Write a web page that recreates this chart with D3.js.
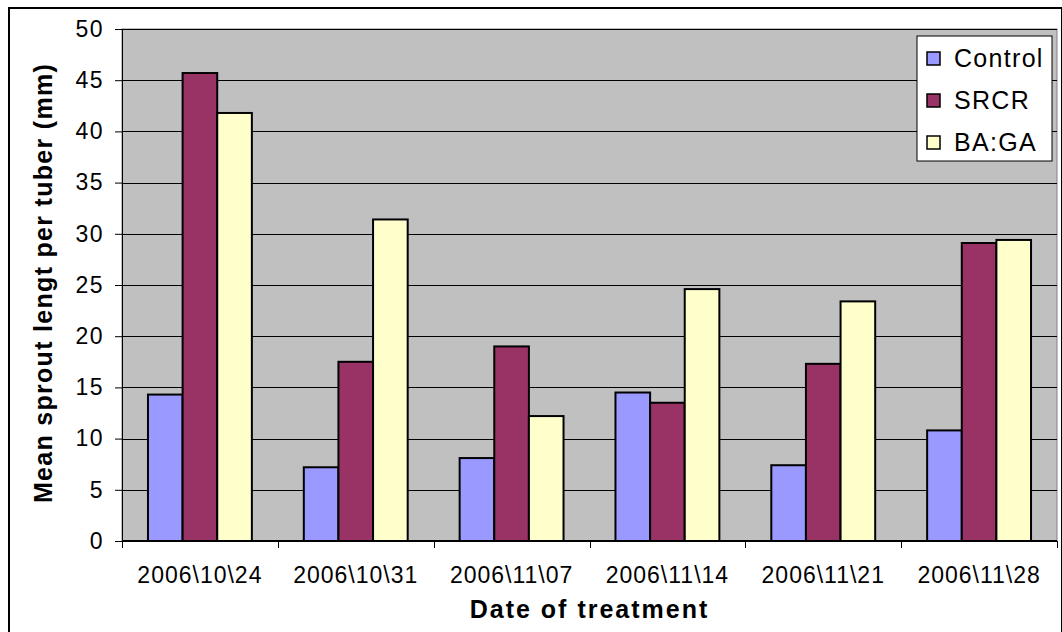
<!DOCTYPE html>
<html>
<head>
<meta charset="utf-8">
<script src="https://cdn.jsdelivr.net/npm/d3@7"></script>
<style>
  body { margin: 0; background: #fff; }
  text { font-family: "Liberation Sans", Arial, sans-serif; }
</style>
</head>
<body>
<div id="chart"></div>
<script>
// data
var dates = ["2006\\10\\24", "2006\\10\\31", "2006\\11\\07", "2006\\11\\14", "2006\\11\\21", "2006\\11\\28"];
var seriesNames = ["Control", "SRCR", "BA:GA"];
var control = [14.3, 7.2, 8.1, 14.5, 7.4, 10.8];
var srcr = [45.7, 17.5, 19.0, 13.5, 17.3, 29.1];
var baga = [41.8, 31.4, 12.2, 24.6, 23.4, 29.4];
var yTicks = [0, 5, 10, 15, 20, 25, 30, 35, 40, 45, 50];

var colors = ["#9999FF", "#993366", "#FFFFCC"];
var values = [control, srcr, baga];

var width = 1062, height = 632;
var margin = {left: 122, right: 5, top: 29, bottom: 91};

var svg = d3.select("#chart").append("svg")
    .attr("width", width)
    .attr("height", height);

// outer chart border
svg.append("rect")
  .attr("x", 9).attr("y", 8)
  .attr("width", width - 9).attr("height", height - 7)
  .style("fill", "#fff")
  .style("stroke", "#000")
  .style("stroke-width", 2);

var xScale = d3.scaleBand()
  .domain(dates)
  .range([margin.left, width - margin.right]);

var yScale = d3.scaleLinear()
  .domain([0, 50])
  .range([height - margin.bottom, margin.top]);

// inner band for the 3 bars (gap width 150%)
var inner = d3.scaleBand()
  .domain(d3.range(3))
  .range([0, xScale.bandwidth()])
  .paddingOuter(0.75);

// plot background
svg.append("rect")
  .attr("x", xScale.range()[0])
  .attr("y", yScale(50))
  .attr("width", xScale.range()[1] - xScale.range()[0])
  .attr("height", yScale(0) - yScale(50))
  .style("fill", "#C0C0C0")
  .style("stroke", "#808080")
  .style("stroke-width", 1);

// grid lines
svg.selectAll(".grid")
  .data(yTicks.slice(1))
 .enter()
  .append("line")
  .attr("class", "grid")
  .attr("x1", xScale.range()[0])
  .attr("x2", xScale.range()[1])
  .attr("y1", function(d) { return Math.round(yScale(d)) + 0.5; })
  .attr("y2", function(d) { return Math.round(yScale(d)) + 0.5; })
  .style("stroke", "#000")
  .style("stroke-width", 1);

// bars
for (var s = 0; s < 3; s++) {
  svg.selectAll(".bar" + s)
    .data(values[s])
   .enter()
    .append("rect")
    .attr("class", "bar" + s)
    .attr("x", function(d, i) { return xScale(dates[i]) + inner(s); })
    .attr("y", function(d) { return yScale(d); })
    .attr("width", inner.bandwidth())
    .attr("height", function(d) { return yScale(0) - yScale(d); })
    .style("fill", colors[s])
    .style("stroke", "#000")
    .style("stroke-width", 2);
}

// y axis
var yAxis = d3.axisLeft(yScale)
  .tickValues(yTicks)
  .tickSize(7)
  .tickPadding(11)
  .tickFormat(d3.format("d"));

var gy = svg.append("g")
  .attr("transform", "translate(" + xScale.range()[0] + ",0)")
  .call(yAxis);
gy.select(".domain").style("stroke", "#000");
gy.selectAll("line").style("stroke", "#000");
gy.selectAll("text")
  .style("font-size", "23px")
  .style("letter-spacing", "1.5px")
  .style("fill", "#000");

// x axis: baseline with tick marks at category boundaries
svg.append("line")
  .attr("x1", xScale.range()[0])
  .attr("x2", xScale.range()[1])
  .attr("y1", yScale(0))
  .attr("y2", yScale(0))
  .style("stroke", "#000")
  .style("stroke-width", 2);

var bounds = dates.map(function(d) { return xScale(d); }).concat([xScale.range()[1]]);
svg.selectAll(".xtick")
  .data(bounds)
 .enter()
  .append("line")
  .attr("class", "xtick")
  .attr("x1", function(d) { return Math.round(d) + 0.5; })
  .attr("x2", function(d) { return Math.round(d) + 0.5; })
  .attr("y1", yScale(0))
  .attr("y2", yScale(0) + 7)
  .style("stroke", "#000");

svg.selectAll(".xlabel")
  .data(dates)
 .enter()
  .append("text")
  .attr("class", "xlabel")
  .attr("text-anchor", "middle")
  .attr("x", function(d) { return xScale(d) + xScale.bandwidth() / 2; })
  .attr("y", 583)
  .text(function(d) { return d; })
  .style("font-size", "23px")
  .style("letter-spacing", "1px")
  .style("fill", "#000");

// axis titles
svg.append("text")
  .attr("text-anchor", "middle")
  .attr("x", (xScale.range()[0] + xScale.range()[1]) / 2)
  .attr("y", 618)
  .text("Date of treatment")
  .style("font-size", "25px")
  .style("letter-spacing", "2px")
  .style("font-weight", "bold");

svg.append("text")
  .attr("text-anchor", "middle")
  .attr("transform", "translate(52," + (yScale(25) - 2) + ") rotate(-90)")
  .text("Mean sprout lengt per tuber (mm)")
  .style("font-size", "25px")
  .style("letter-spacing", "1.3px")
  .style("font-weight", "bold");

// legend
var legend = svg.append("g").attr("transform", "translate(917,36)");
legend.append("rect")
  .attr("width", 135).attr("height", 125)
  .style("fill", "#fff")
  .style("stroke", "#000")
  .style("stroke-width", 1);

legend.selectAll(".lsw")
  .data(seriesNames)
 .enter()
  .append("rect")
  .attr("class", "lsw")
  .attr("x", 10)
  .attr("y", function(d, i) { return 16 + i * 42; })
  .attr("width", 13).attr("height", 13)
  .style("fill", function(d, i) { return colors[i]; })
  .style("stroke", "#000")
  .style("stroke-width", 1.5);

legend.selectAll(".ltext")
  .data(seriesNames)
 .enter()
  .append("text")
  .attr("class", "ltext")
  .attr("x", 37)
  .attr("y", function(d, i) { return 31 + i * 42; })
  .text(function(d) { return d; })
  .style("font-size", "25px")
  .style("letter-spacing", "1.3px")
  .style("fill", "#000");
</script>
</body>
</html>
